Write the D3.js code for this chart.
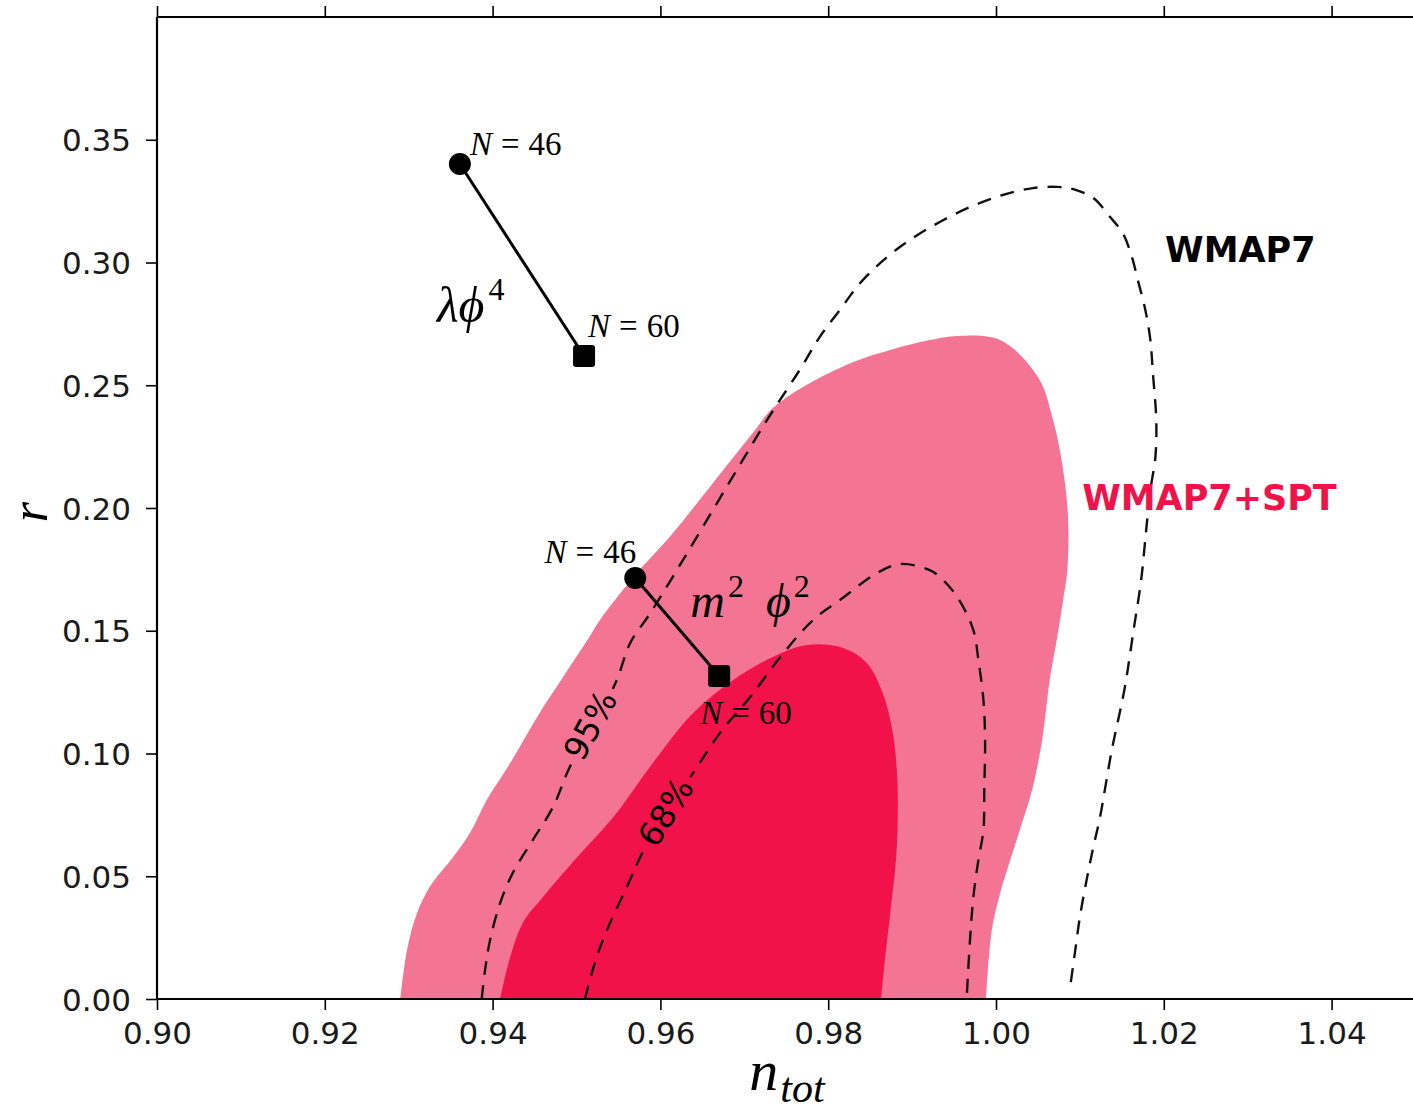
<!DOCTYPE html>
<html>
<head>
<meta charset="utf-8">
<script src="https://cdn.jsdelivr.net/npm/d3@7"></script>
<style>
  body { margin: 0; background: #fff; }
</style>
</head>
<body>
<script>
// Tick values for both axes
var xTicks = [0.90, 0.92, 0.94, 0.96, 0.98, 1.00, 1.02, 1.04];
var yTicks = [0.00, 0.05, 0.10, 0.15, 0.20, 0.25, 0.30, 0.35];

// WMAP7+SPT filled contours, [n_tot, r]
var spt95 = [
	[0.9290, 0.0000], [0.9298, 0.0200], [0.9310, 0.0350], [0.9325, 0.0456],
	[0.9353, 0.0578], [0.9373, 0.0676], [0.9393, 0.0811], [0.9421, 0.0961],
	[0.9456, 0.1165], [0.9484, 0.1312], [0.9513, 0.1462], [0.9528, 0.1544],
	[0.9572, 0.1735], [0.9611, 0.1882], [0.9659, 0.2086], [0.9710, 0.2305],
	[0.9734, 0.2407], [0.9770, 0.2493], [0.9830, 0.2595], [0.9874, 0.2644],
	[0.9921, 0.2684], [0.9954, 0.2701], [1.0005, 0.2684], [1.0050, 0.2534],
	[1.0068, 0.2358], [1.0080, 0.2155], [1.0086, 0.1951], [1.0085, 0.1747],
	[1.0080, 0.1625], [1.0073, 0.1475], [1.0064, 0.1299], [1.0055, 0.1055],
	[1.0043, 0.0851], [1.0031, 0.0717], [1.0017, 0.0566], [1.0005, 0.0432],
	[0.9995, 0.0281], [0.9988, 0.0000]
];
var spt68 = [
	[0.9409, 0.0000], [0.9421, 0.0171], [0.9436, 0.0310], [0.9460, 0.0415],
	[0.9501, 0.0578], [0.9544, 0.0741], [0.9591, 0.0961], [0.9639, 0.1165],
	[0.9687, 0.1299], [0.9734, 0.1393], [0.9775, 0.1442], [0.9818, 0.1430],
	[0.9846, 0.1369], [0.9865, 0.1246], [0.9877, 0.1084], [0.9882, 0.0921],
	[0.9883, 0.0782], [0.9881, 0.0578], [0.9874, 0.0350], [0.9868, 0.0171],
	[0.9863, 0.0000]
];

// WMAP7 dashed contours
var wmap95 = [
	[0.9387, 0.0000], [0.9391, 0.0118], [0.9397, 0.0240], [0.9409, 0.0391],
	[0.9424, 0.0513], [0.9448, 0.0648], [0.9472, 0.0782], [0.9492, 0.0945],
	[0.9528, 0.1165], [0.9548, 0.1299], [0.9564, 0.1450], [0.9588, 0.1572],
	[0.9632, 0.1817], [0.9679, 0.2086], [0.9727, 0.2358], [0.9766, 0.2562],
	[0.9790, 0.2697], [0.9814, 0.2807], [0.9838, 0.2916], [0.9870, 0.3022],
	[0.9901, 0.3100], [0.9933, 0.3165], [0.9969, 0.3226], [1.0008, 0.3275],
	[1.0044, 0.3303], [1.0073, 0.3308], [1.0092, 0.3299], [1.0116, 0.3263],
	[1.0136, 0.3185], [1.0151, 0.3120], [1.0162, 0.3022], [1.0169, 0.2929],
	[1.0178, 0.2807], [1.0184, 0.2684], [1.0187, 0.2550], [1.0191, 0.2358],
	[1.0190, 0.2208], [1.0184, 0.2073], [1.0179, 0.1910], [1.0173, 0.1707],
	[1.0164, 0.1503], [1.0153, 0.1259], [1.0138, 0.1014], [1.0124, 0.0741],
	[1.0116, 0.0619], [1.0108, 0.0485], [1.0100, 0.0334], [1.0094, 0.0187],
	[1.0088, 0.0040]
];
var wmap68 = [
	[0.9510, 0.0000], [0.9524, 0.0171], [0.9540, 0.0310], [0.9560, 0.0456],
	[0.9576, 0.0578], [0.9603, 0.0741], [0.9639, 0.0921], [0.9671, 0.1084],
	[0.9707, 0.1230], [0.9743, 0.1393], [0.9782, 0.1544], [0.9814, 0.1625],
	[0.9858, 0.1735], [0.9886, 0.1772], [0.9921, 0.1747], [0.9933, 0.1719],
	[0.9954, 0.1637], [0.9973, 0.1503], [0.9979, 0.1381], [0.9985, 0.1218],
	[0.9987, 0.1055], [0.9986, 0.0851], [0.9985, 0.0688], [0.9979, 0.0566],
	[0.9973, 0.0415], [0.9969, 0.0240], [0.9965, 0.0000]
];

// Model predictions: N=46 (circle) and N=60 (square)
var lambdaPhi4 = [[0.9361, 0.3401], [0.9509, 0.2619]];
var m2phi2 = [[0.9570, 0.1715], [0.9670, 0.1316]];

var width = 1413;
var height = 1111;

var x = d3.scaleLinear().domain([0.90, 1.05]).range([157, 1415.5]);
var y = d3.scaleLinear().domain([0.00, 0.40]).range([999, 17]);

var lightPink = "#f37593";
var darkPink = "#f2124a";
var serif = "'Liberation Serif', 'DejaVu Serif', serif";

var svg = d3.select("body")
	.append("svg")
		.attr("width", width)
		.attr("height", height);

var smooth = d3.line()
	.x(function(d) { return x(d[0]); })
	.y(function(d) { return y(d[1]); })
	.curve(d3.curveCatmullRom.alpha(0.5));

// Filled regions
svg.append("path")
	.attr("d", smooth(spt95) + "Z")
	.attr("fill", lightPink);
svg.append("path")
	.attr("d", smooth(spt68) + "Z")
	.attr("fill", darkPink);

// Contour labels, with a mask that breaks the dashed line under them
var contourLabels = [
	{text: "95%", at: [0.9516, 0.1116], angle: -61},
	{text: "68%", at: [0.9606, 0.0762], angle: -58}
];

var labels = svg.append("g")
	.selectAll("text")
	.data(contourLabels)
	.enter().append("text")
		.attr("transform", function(d) {
			return "translate(" + x(d.at[0]) + "," + y(d.at[1]) + ") rotate(" + d.angle + ")";
		})
		.attr("text-anchor", "middle")
		.attr("dy", "0.36em")
		.attr("font-family", "DejaVu Sans")
		.attr("font-size", 33)
		.attr("fill", "#000")
		.text(function(d) { return d.text; });

var mask = svg.append("defs").append("mask")
	.attr("id", "labelMask")
	.attr("maskUnits", "userSpaceOnUse");
mask.append("rect")
	.attr("x", 0).attr("y", 0)
	.attr("width", width).attr("height", height)
	.attr("fill", "white");
labels.each(function(d) {
	var b = this.getBBox();
	mask.append("rect")
		.attr("transform", d3.select(this).attr("transform"))
		.attr("x", b.x - 6)
		.attr("y", b.y + 2)
		.attr("width", b.width + 12)
		.attr("height", b.height - 4)
		.attr("fill", "black");
});

// Dashed WMAP7 contours
var dashed = svg.append("g").attr("mask", "url(#labelMask)");
[wmap95, wmap68].forEach(function(c) {
	dashed.append("path")
		.attr("d", smooth(c))
		.attr("fill", "none")
		.attr("stroke", "#111")
		.attr("stroke-width", 2.4)
		.attr("stroke-dasharray", "14,10");
});

// Model tracks
var straight = d3.line()
	.x(function(d) { return x(d[0]); })
	.y(function(d) { return y(d[1]); });

[lambdaPhi4, m2phi2].forEach(function(m) {
	svg.append("path")
		.attr("d", straight(m))
		.attr("fill", "none")
		.attr("stroke", "#000")
		.attr("stroke-width", 3);
	svg.append("circle")
		.attr("cx", x(m[0][0]))
		.attr("cy", y(m[0][1]))
		.attr("r", 11)
		.attr("fill", "#000");
	svg.append("rect")
		.attr("x", x(m[1][0]) - 11)
		.attr("y", y(m[1][1]) - 11)
		.attr("width", 22)
		.attr("height", 22)
		.attr("rx", 3)
		.attr("fill", "#000");
});

// N labels next to the markers
function nLabel(pt, num, dx, dy, anchor) {
	var t = svg.append("text")
		.attr("x", x(pt[0]) + dx)
		.attr("y", y(pt[1]) + dy)
		.attr("text-anchor", anchor)
		.attr("font-family", serif)
		.attr("font-size", 33)
		.attr("fill", "#000");
	t.append("tspan").attr("font-style", "italic").text("N");
	t.append("tspan").attr("dx", 9).text("=");
	t.append("tspan").attr("dx", 9).text(num);
}
nLabel(lambdaPhi4[0], "46", 10, -9, "start");
nLabel(lambdaPhi4[1], "60", 4, -19, "start");
nLabel(m2phi2[0], "46", 1, -15, "end");
nLabel(m2phi2[1], "60", -19, 48, "start");

// Model names
var lp = svg.append("text")
	.attr("x", x(lambdaPhi4[0][0]) - 23)
	.attr("y", y(lambdaPhi4[0][1]) + 158)
	.attr("font-family", serif)
	.attr("font-size", 50)
	.attr("fill", "#000");
lp.append("tspan").attr("font-style", "italic").text("λϕ");
lp.append("tspan").attr("font-size", 32).attr("dy", -22).attr("dx", 4).text("4");

var mp = svg.append("text")
	.attr("x", x(m2phi2[0][0]) + 55)
	.attr("y", y(m2phi2[0][1]) + 39)
	.attr("font-family", serif)
	.attr("font-size", 48)
	.attr("fill", "#000");
mp.append("tspan").attr("font-style", "italic").text("m");
mp.append("tspan").attr("font-size", 32).attr("dy", -20).attr("dx", 3).text("2");
mp.append("tspan").attr("font-style", "italic").attr("dy", 20).attr("dx", 22).text("ϕ");
mp.append("tspan").attr("font-size", 32).attr("dy", -20).attr("dx", 3).text("2");

// Dataset names
svg.append("text")
	.attr("x", x(1.0192) + 8)
	.attr("y", y(0.3022) + 5)
	.attr("font-family", "DejaVu Sans")
	.attr("font-weight", "bold")
	.attr("font-size", 35)
	.attr("fill", "#000")
	.text("WMAP7");
svg.append("text")
	.attr("x", x(1.0086) + 14)
	.attr("y", y(0.1951) - 10)
	.attr("font-family", "DejaVu Sans")
	.attr("font-weight", "bold")
	.attr("font-size", 35)
	.attr("fill", darkPink)
	.text("WMAP7+SPT");

// Axes
var fmt = d3.format(".2f");

var xAxis = svg.append("g")
	.attr("transform", "translate(0," + y(0) + ")")
	.call(d3.axisBottom(x).tickValues(xTicks).tickFormat(fmt).tickSize(11).tickPadding(12));

var xTop = svg.append("g")
	.attr("transform", "translate(0," + y(0.40) + ")")
	.call(d3.axisTop(x).tickValues(xTicks).tickFormat("").tickSize(11));

var yAxis = svg.append("g")
	.attr("transform", "translate(" + x(0.90) + ",0)")
	.call(d3.axisLeft(y).tickValues(yTicks).tickFormat(fmt).tickSize(11).tickPadding(15));

[xAxis, xTop, yAxis].forEach(function(a) {
	a.select(".domain").remove();
	a.selectAll(".tick line").attr("stroke", "#000").attr("stroke-width", 1.6);
	a.selectAll(".tick text")
		.attr("font-family", "DejaVu Sans")
		.attr("font-size", 31)
		.attr("fill", "#1a1a1a");
});
yAxis.selectAll(".tick text").attr("dy", "0.36em");

// Spines
var spine = svg.append("g")
	.attr("stroke", "#000")
	.attr("stroke-width", 2.2)
	.attr("fill", "none");
spine.append("line")
	.attr("x1", x(0.90)).attr("x2", x(0.90))
	.attr("y1", y(0)).attr("y2", y(0.40));
spine.append("line")
	.attr("x1", x(0.90)).attr("x2", width)
	.attr("y1", y(0)).attr("y2", y(0));
spine.append("line")
	.attr("x1", x(0.90)).attr("x2", width)
	.attr("y1", y(0.40)).attr("y2", y(0.40));

// Axis titles
var xt = svg.append("text")
	.attr("x", 787)
	.attr("y", 1090)
	.attr("text-anchor", "middle")
	.attr("font-family", serif)
	.attr("font-style", "italic")
	.attr("font-size", 58)
	.attr("fill", "#000");
xt.append("tspan").text("n");
xt.append("tspan").attr("font-size", 42).attr("dy", 12).attr("dx", 2).text("tot");

svg.append("text")
	.attr("transform", "translate(47,512) rotate(-90)")
	.attr("text-anchor", "middle")
	.attr("font-family", serif)
	.attr("font-style", "italic")
	.attr("font-size", 52)
	.attr("fill", "#000")
	.text("r");
</script>
</body>
</html>
